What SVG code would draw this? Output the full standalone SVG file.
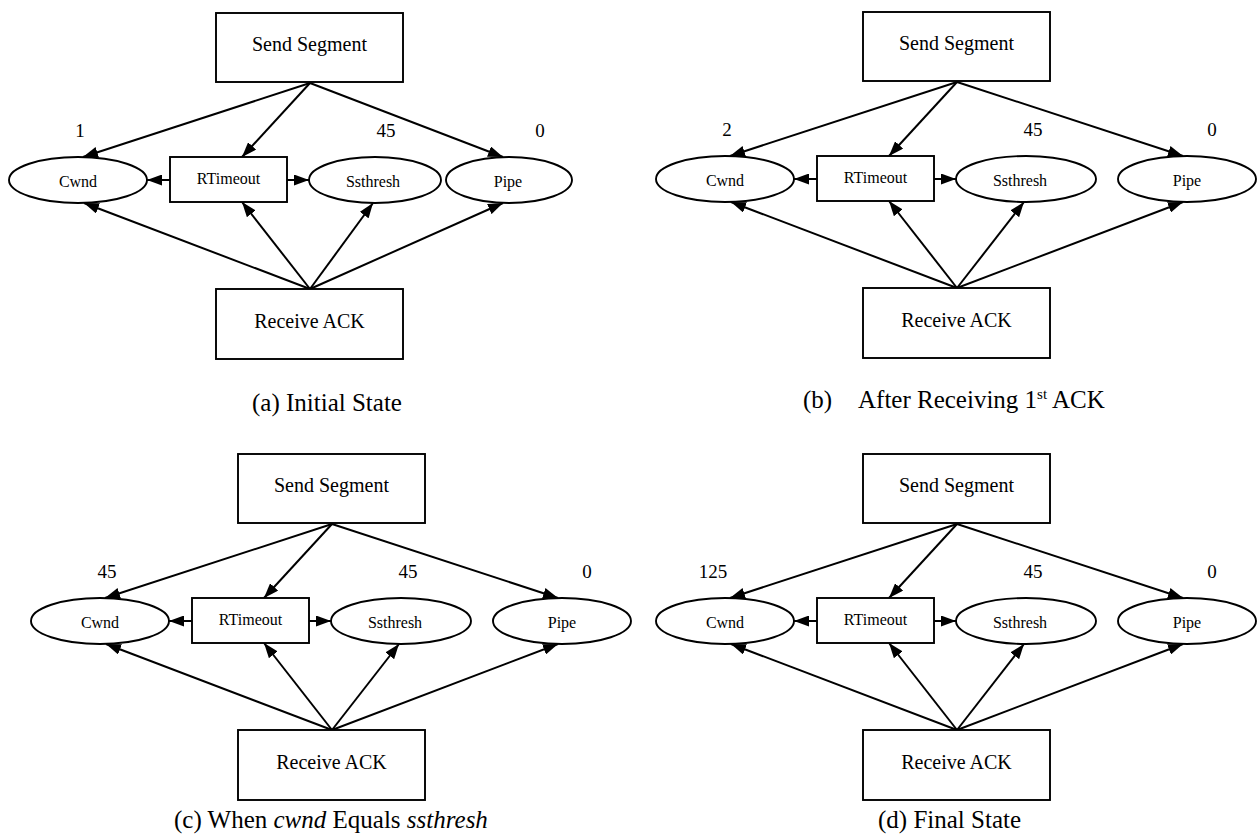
<svg xmlns="http://www.w3.org/2000/svg" width="1257" height="836" viewBox="0 0 1257 836">
  <defs>
    <marker id="arrow" viewBox="0 0 15 11" refX="15" refY="5.5" markerWidth="15" markerHeight="11" markerUnits="userSpaceOnUse" orient="auto">
      <path d="M0,0 L15,5.5 L0,11 z" fill="#000"/>
    </marker>
  </defs>
  <style>
    rect, ellipse { fill: #fff; stroke: #000; stroke-width: 1.9; }
    .edges line { stroke: #000; stroke-width: 2; marker-end: url(#arrow); }
    text { font-family: "Liberation Serif", "Times New Roman", serif; fill: #000; }
    .big { font-size: 20px; text-anchor: middle; }
    .small { font-size: 16px; text-anchor: middle; }
    .val { font-size: 19px; text-anchor: middle; }
    .cap { font-size: 25px; }
  </style>

  <!-- Panel (a): initial state -->
  <g id="panel-a" transform="translate(0,0)">
    <g class="edges" id="a-edges">
      <line x1="310" y1="83" x2="83" y2="157"/>
      <line x1="310" y1="83" x2="503" y2="157"/>
      <line x1="310" y1="83" x2="242" y2="157"/>
      <line x1="170" y1="180" x2="147" y2="180"/>
      <line x1="287" y1="180" x2="309" y2="180"/>
      <line x1="310" y1="289" x2="84" y2="203"/>
      <line x1="310" y1="289" x2="242" y2="202"/>
      <line x1="310" y1="289" x2="373" y2="203"/>
      <line x1="310" y1="289" x2="503" y2="203"/>
    </g>
    <g id="a-send"><rect x="216" y="13" width="187" height="69"/><text class="big" x="309.5" y="51">Send Segment</text></g>
    <g id="a-cwnd"><ellipse cx="78" cy="180" rx="69" ry="23"/><text class="small" x="78" y="187">Cwnd</text><text class="val" x="80" y="137">1</text></g>
    <g id="a-rtimeout"><rect x="170" y="157" width="117" height="45"/><text class="small" x="228.5" y="184">RTimeout</text></g>
    <g id="a-ssthresh"><ellipse cx="375" cy="180" rx="66" ry="23"/><text class="small" x="373" y="187">Ssthresh</text><text class="val" x="386" y="137">45</text></g>
    <g id="a-pipe"><ellipse cx="509" cy="180" rx="63" ry="23"/><text class="small" x="508" y="187">Pipe</text><text class="val" x="540" y="137">0</text></g>
    <g id="a-receive"><rect x="216" y="289" width="187" height="70"/><text class="big" x="309.5" y="328">Receive ACK</text></g>
  </g>

  <!-- Panel (b): after the first ACK -->
  <g id="panel-b" transform="translate(647,-1)">
    <g class="edges" id="b-edges">
      <line x1="310" y1="83" x2="83" y2="157"/>
      <line x1="310" y1="83" x2="242" y2="157"/>
      <line x1="310" y1="83" x2="536" y2="157"/>
      <line x1="170" y1="180" x2="147" y2="180"/>
      <line x1="287" y1="180" x2="309" y2="180"/>
      <line x1="310" y1="289" x2="84" y2="203"/>
      <line x1="310" y1="289" x2="242" y2="202"/>
      <line x1="310" y1="289" x2="377" y2="203"/>
      <line x1="310" y1="289" x2="536" y2="203"/>
    </g>
    <g id="b-send"><rect x="216" y="13" width="187" height="69"/><text class="big" x="309.5" y="51">Send Segment</text></g>
    <g id="b-cwnd"><ellipse cx="78" cy="180" rx="69" ry="23"/><text class="small" x="78" y="187">Cwnd</text><text class="val" x="80" y="137">2</text></g>
    <g id="b-rtimeout"><rect x="170" y="157" width="117" height="45"/><text class="small" x="228.5" y="184">RTimeout</text></g>
    <g id="b-ssthresh"><ellipse cx="379" cy="180" rx="70" ry="23"/><text class="small" x="373" y="187">Ssthresh</text><text class="val" x="386" y="137">45</text></g>
    <g id="b-pipe"><ellipse cx="540" cy="180" rx="69" ry="23"/><text class="small" x="540" y="187">Pipe</text><text class="val" x="565" y="137">0</text></g>
    <g id="b-receive"><rect x="216" y="289" width="187" height="70"/><text class="big" x="309.5" y="328">Receive ACK</text></g>
  </g>

  <!-- Panel (c): cwnd reaches ssthresh -->
  <g id="panel-c" transform="translate(22,441)">
    <g class="edges" id="c-edges">
      <line x1="310" y1="83" x2="83" y2="157"/>
      <line x1="310" y1="83" x2="242" y2="157"/>
      <line x1="310" y1="83" x2="536" y2="157"/>
      <line x1="170" y1="180" x2="147" y2="180"/>
      <line x1="287" y1="180" x2="309" y2="180"/>
      <line x1="310" y1="289" x2="84" y2="203"/>
      <line x1="310" y1="289" x2="242" y2="202"/>
      <line x1="310" y1="289" x2="377" y2="203"/>
      <line x1="310" y1="289" x2="536" y2="203"/>
    </g>
    <g id="c-send"><rect x="216" y="13" width="187" height="69"/><text class="big" x="309.5" y="51">Send Segment</text></g>
    <g id="c-cwnd"><ellipse cx="78" cy="180" rx="69" ry="23"/><text class="small" x="78" y="187">Cwnd</text><text class="val" x="85" y="137">45</text></g>
    <g id="c-rtimeout"><rect x="170" y="157" width="117" height="45"/><text class="small" x="228.5" y="184">RTimeout</text></g>
    <g id="c-ssthresh"><ellipse cx="379" cy="180" rx="70" ry="23"/><text class="small" x="373" y="187">Ssthresh</text><text class="val" x="386" y="137">45</text></g>
    <g id="c-pipe"><ellipse cx="540" cy="180" rx="69" ry="23"/><text class="small" x="540" y="187">Pipe</text><text class="val" x="565" y="137">0</text></g>
    <g id="c-receive"><rect x="216" y="289" width="187" height="70"/><text class="big" x="309.5" y="328">Receive ACK</text></g>
  </g>

  <!-- Panel (d): final state -->
  <g id="panel-d" transform="translate(647,441)">
    <g class="edges" id="d-edges">
      <line x1="310" y1="83" x2="83" y2="157"/>
      <line x1="310" y1="83" x2="242" y2="157"/>
      <line x1="310" y1="83" x2="536" y2="157"/>
      <line x1="170" y1="180" x2="147" y2="180"/>
      <line x1="287" y1="180" x2="309" y2="180"/>
      <line x1="310" y1="289" x2="84" y2="203"/>
      <line x1="310" y1="289" x2="242" y2="202"/>
      <line x1="310" y1="289" x2="377" y2="203"/>
      <line x1="310" y1="289" x2="536" y2="203"/>
    </g>
    <g id="d-send"><rect x="216" y="13" width="187" height="69"/><text class="big" x="309.5" y="51">Send Segment</text></g>
    <g id="d-cwnd"><ellipse cx="78" cy="180" rx="69" ry="23"/><text class="small" x="78" y="187">Cwnd</text><text class="val" x="66" y="137">125</text></g>
    <g id="d-rtimeout"><rect x="170" y="157" width="117" height="45"/><text class="small" x="228.5" y="184">RTimeout</text></g>
    <g id="d-ssthresh"><ellipse cx="379" cy="180" rx="70" ry="23"/><text class="small" x="373" y="187">Ssthresh</text><text class="val" x="386" y="137">45</text></g>
    <g id="d-pipe"><ellipse cx="540" cy="180" rx="69" ry="23"/><text class="small" x="540" y="187">Pipe</text><text class="val" x="565" y="137">0</text></g>
    <g id="d-receive"><rect x="216" y="289" width="187" height="70"/><text class="big" x="309.5" y="328">Receive ACK</text></g>
  </g>

  <!-- Captions -->
  <g id="captions">
    <text class="cap" x="252" y="411">(a) Initial State</text>
    <text class="cap" x="803" y="408">(b)<tspan x="858">After Receiving 1</tspan><tspan font-size="15" dy="-9">st</tspan><tspan dy="9"> ACK</tspan></text>
    <text class="cap" x="174" y="828">(c) When <tspan font-style="italic">cwnd</tspan> Equals <tspan font-style="italic">ssthresh</tspan></text>
    <text class="cap" x="878" y="828">(d) Final State</text>
  </g>
</svg>
